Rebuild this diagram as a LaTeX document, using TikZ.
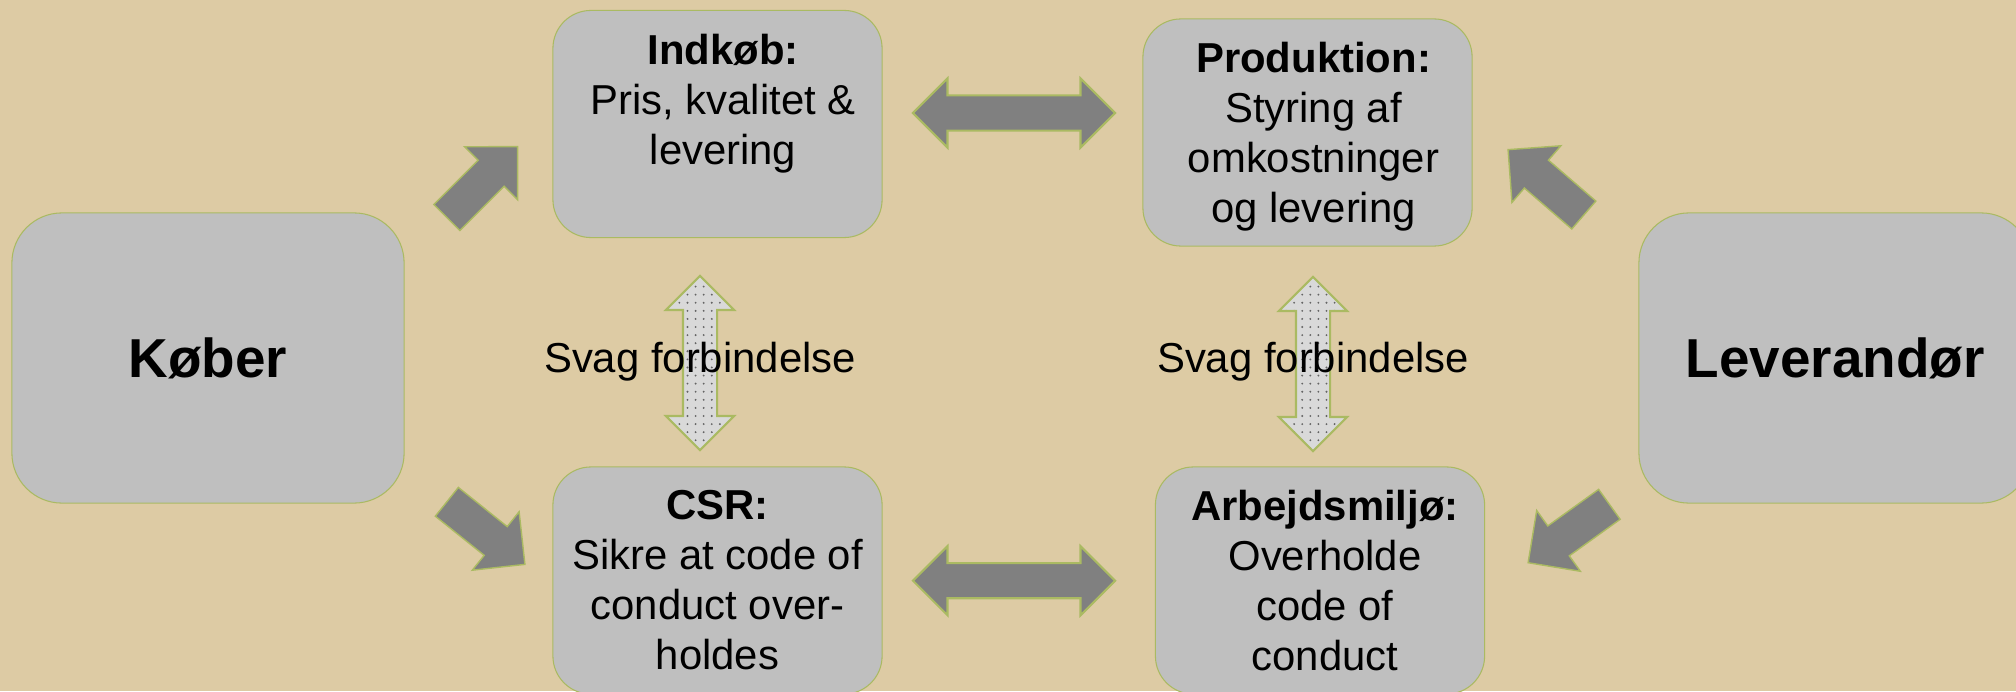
\documentclass[tikz,border=0pt]{standalone}
\usepackage{fontspec}
\setmainfont{Liberation Sans}
\usetikzlibrary{shapes.arrows,patterns,positioning}

\definecolor{baggrund}{RGB}{221,203,164}
\definecolor{boks}{RGB}{191,191,191}
\definecolor{kant}{RGB}{170,186,98}
\definecolor{pil}{RGB}{128,128,128}
\definecolor{lys}{RGB}{217,217,217}
\definecolor{prik}{RGB}{100,100,100}

\pgfdeclarepatternformonly{prikker}{\pgfqpoint{-1pt}{-1pt}}{\pgfqpoint{1pt}{1pt}}{\pgfqpoint{2.3pt}{2.3pt}}{\pgfpathcircle{\pgfqpoint{0pt}{0pt}}{.3pt}\pgfusepath{fill}}

\begin{document}
\begin{tikzpicture}[x=0.01cm, y=-0.01cm]
\clip (0,0) rectangle (2016,691);
\fill[baggrund] (0,0) rectangle (2016,691);

\begin{scope}[every node/.style={rectangle, rounded corners=0.38cm, draw=kant, fill=boks, line width=0.3pt, minimum width=3.29cm, minimum height=2.27cm},
              part/.style={minimum width=3.92cm, minimum height=2.9cm, rounded corners=0.5cm, font=\fontsize{15.6}{18}\selectfont\bfseries}]
    \node (K) at (208,358) [part] {Køber};
    \node (L) at (1835,358) [part] {Leverandør};
    \node (I) at (717.5,124) {};
    \node (P) at (1307.5,132.5) {};
    \node (C) at (717.5,580.5) {};
    \node (M) at (1320,580.5) {};
\end{scope}

\begin{scope}[every node/.style={align=center, inner sep=0pt, font=\fontsize{11.9}{14.2}\selectfont}]
    \node (It) [below=0.235cm of I.north, xshift=0.055cm] {\textbf{Indkøb:}\\Pris, kvalitet \&\\levering};
    \node (Pt) [below=0.235cm of P.north, xshift=0.06cm] {\textbf{Produktion:}\\Styring af\\omkostninger\\og levering};
    \node (Ct) [below=0.235cm of C.north] {\textbf{CSR:}\\Sikre at code of\\conduct over-\\holdes};
    \node (Mt) [below=0.235cm of M.north, xshift=0.05cm] {\textbf{Arbejdsmiljø:}\\Overholde\\code of\\conduct};
\end{scope}

\begin{scope}[every node/.style={single arrow, anchor=tip, draw=kant, fill=pil, line width=0.4pt, inner xsep=0pt, inner ysep=0.177cm, minimum height=1cm, minimum width=0.73cm, single arrow head extend=0.19cm}]
    \node (KI) at (518.3,146) [rotate=45] {};
    \node (KC) at (525.7,565) [rotate=-38.7] {};
    \node (LP) at (1507.3,149) [rotate=139.2] {};
    \node (LM) at (1527.3,563.3) [rotate=-144.3] {};
\end{scope}

\begin{scope}[every node/.style={double arrow, draw=kant, line width=0.6pt, inner xsep=0pt, double arrow head extend=0.17cm},
              svag/.style={preaction={fill=lys}, pattern=prikker, pattern color=prik, inner ysep=0.16cm, minimum height=1.74cm, minimum width=0.66cm, rotate=90}]
    \node (IP) at (1014,113) [fill=pil, inner ysep=0.165cm, minimum height=2.02cm, minimum width=0.67cm] {};
    \node (CM) at (1014,580.7) [fill=pil, inner ysep=0.165cm, minimum height=2.02cm, minimum width=0.67cm] {};
    \node (IC) at (700,363) [svag] {};
    \node (PM) at (1313,364) [svag] {};
\end{scope}

\begin{scope}[every node/.style={anchor=base, inner sep=0pt, font=\fontsize{11.9}{14.2}\selectfont}]
    \node (ICt) at (700,372) {Svag forbindelse};
    \node (PMt) at (1313,372) {Svag forbindelse};
\end{scope}
\end{tikzpicture}
\end{document}
